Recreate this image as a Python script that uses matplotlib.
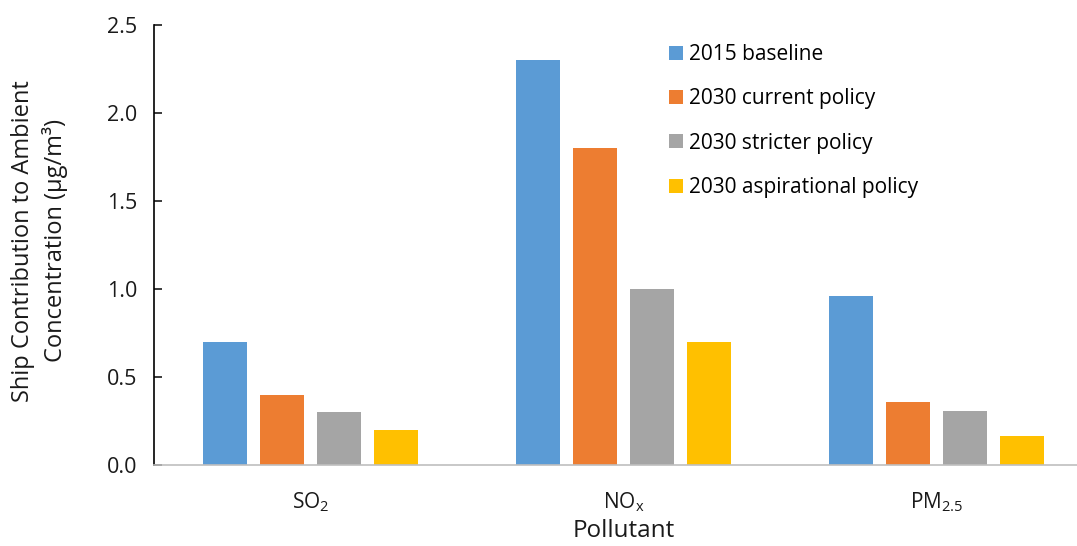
import numpy as np
import matplotlib.pyplot as plt

plt.rcParams['font.family'] = ['Open Sans', 'DejaVu Sans']

pollutants = [r'SO$_\mathregular{2}$', r'NO$_\mathregular{x}$', r'PM$_\mathregular{2.5}$']
scenarios = ['2015 baseline', '2030 current policy', '2030 stricter policy',
             '2030 aspirational policy']
baseline_2015 = [0.70, 2.30, 0.96]
current_2030 = [0.40, 1.80, 0.36]
stricter_2030 = [0.30, 1.00, 0.31]
aspirational_2030 = [0.20, 0.70, 0.165]
colors = ['#5B9BD5', '#ED7D31', '#A5A5A5', '#FFC000']

series = [baseline_2015, current_2030, stricter_2030, aspirational_2030]

fig = plt.figure(figsize=(10.77, 5.46), dpi=100)
ax = fig.add_axes([0.143, 0.148, 0.872, 0.806])

x = np.arange(len(pollutants))
width = 0.14
step = 0.182
for i, (vals, name, c) in enumerate(zip(series, scenarios, colors)):
    ax.bar(x + (i - 1.5) * step, vals, width, color=c, label=name)

ax.set_xlim(-0.5, 2.5)
ax.set_ylim(0, 2.5)
yt = np.arange(0, 2.51, 0.5)
ax.set_yticks(yt)
ax.set_yticklabels([f'{v:.1f}' for v in yt])
ax.set_xticks(x)
ax.set_xticklabels(pollutants, fontsize=15)

for s in ['top', 'right']:
    ax.spines[s].set_visible(False)
ax.spines['left'].set_color('black')
ax.spines['left'].set_linewidth(1.2)
ax.spines['bottom'].set_color('#BFBFBF')
ax.spines['bottom'].set_linewidth(1.2)

ax.tick_params(axis='y', direction='in', length=6, width=1.2, pad=12,
               labelsize=15.5, colors='#1a1a1a')
ax.tick_params(axis='x', length=0, pad=18, colors='#1a1a1a')

ax.set_ylabel('Ship Contribution to Ambient\nConcentration (μg/m³)',
              fontsize=17, color='#1a1a1a', linespacing=1.35)
ax.yaxis.set_label_coords(-0.092, 0.51)
ax.set_xlabel('Pollutant', fontsize=17.5, color='#1a1a1a')
ax.xaxis.set_label_coords(0.5, -0.122)

ax.legend(loc='upper left', bbox_to_anchor=(0.548, 0.957), frameon=False,
          fontsize=15, borderpad=0, borderaxespad=0,
          handlelength=0.67, handleheight=0.67,
          handletextpad=0.33, labelspacing=1.12)

fig.savefig('out.png', dpi=100)
